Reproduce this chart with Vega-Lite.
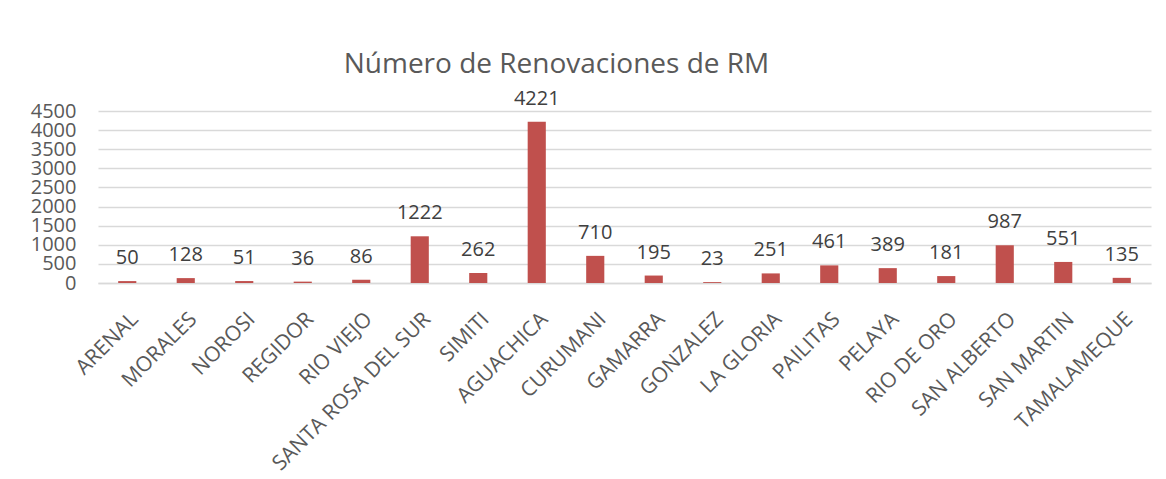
{
  "$schema": "https://vega.github.io/schema/vega-lite/v6.json",
  "autosize": "none",
  "width": 1053,
  "height": 172,
  "padding": {"left": 98, "top": 111, "right": 15, "bottom": 196},
  "background": "white",
  "config": {"view": {"stroke": null}, "font": "Open Sans"},
  "title": {
    "text": "Número de Renovaciones de RM",
    "fontSize": 28,
    "fontWeight": "normal",
    "color": "#595959",
    "font": "Open Sans",
    "anchor": "middle",
    "frame": "group",
    "dx": -68,
    "offset": 10
  },
  "data": {
    "values": [
      {"municipio": "ARENAL", "valor": 50},
      {"municipio": "MORALES", "valor": 128},
      {"municipio": "NOROSI", "valor": 51},
      {"municipio": "REGIDOR", "valor": 36},
      {"municipio": "RIO VIEJO", "valor": 86},
      {"municipio": "SANTA ROSA DEL SUR", "valor": 1222},
      {"municipio": "SIMITI", "valor": 262},
      {"municipio": "AGUACHICA", "valor": 4221},
      {"municipio": "CURUMANI", "valor": 710},
      {"municipio": "GAMARRA", "valor": 195},
      {"municipio": "GONZALEZ", "valor": 23},
      {"municipio": "LA GLORIA", "valor": 251},
      {"municipio": "PAILITAS", "valor": 461},
      {"municipio": "PELAYA", "valor": 389},
      {"municipio": "RIO DE ORO", "valor": 181},
      {"municipio": "SAN ALBERTO", "valor": 987},
      {"municipio": "SAN MARTIN", "valor": 551},
      {"municipio": "TAMALAMEQUE", "valor": 135}
    ]
  },
  "encoding": {
    "x": {
      "field": "municipio",
      "type": "nominal",
      "sort": null,
      "scale": {"paddingInner": 0.69, "paddingOuter": 0.345},
      "axis": {
        "title": null,
        "labelAngle": -45,
        "labelFontSize": 21,
        "labelColor": "#595959",
        "labelFont": "Open Sans",
        "labelLimit": 0,
        "ticks": false,
        "domainColor": "#D9D9D9",
        "domainWidth": 1.5,
        "labelPadding": 25,
        "labelDx": -10,
        "labelOverlap": false
      }
    },
    "y": {
      "field": "valor",
      "type": "quantitative",
      "scale": {"domain": [0, 4500], "nice": false},
      "axis": {
        "title": null,
        "format": "d",
        "values": [0, 500, 1000, 1500, 2000, 2500, 3000, 3500, 4000, 4500],
        "labelFontSize": 20,
        "labelColor": "#595959",
        "labelFont": "Open Sans",
        "ticks": false,
        "domain": false,
        "gridColor": "#D9D9D9",
        "gridWidth": 1.5,
        "labelPadding": 22,
        "labelOverlap": false,
        "labelBaseline": "middle"
      }
    }
  },
  "layer": [
    {"mark": {"type": "bar", "color": "#C0504D"}},
    {
      "mark": {"type": "text", "baseline": "alphabetic", "dy": -17, "fontSize": 20, "color": "#404040", "font": "Open Sans"},
      "encoding": {"text": {"field": "valor", "type": "quantitative"}}
    }
  ]
}
